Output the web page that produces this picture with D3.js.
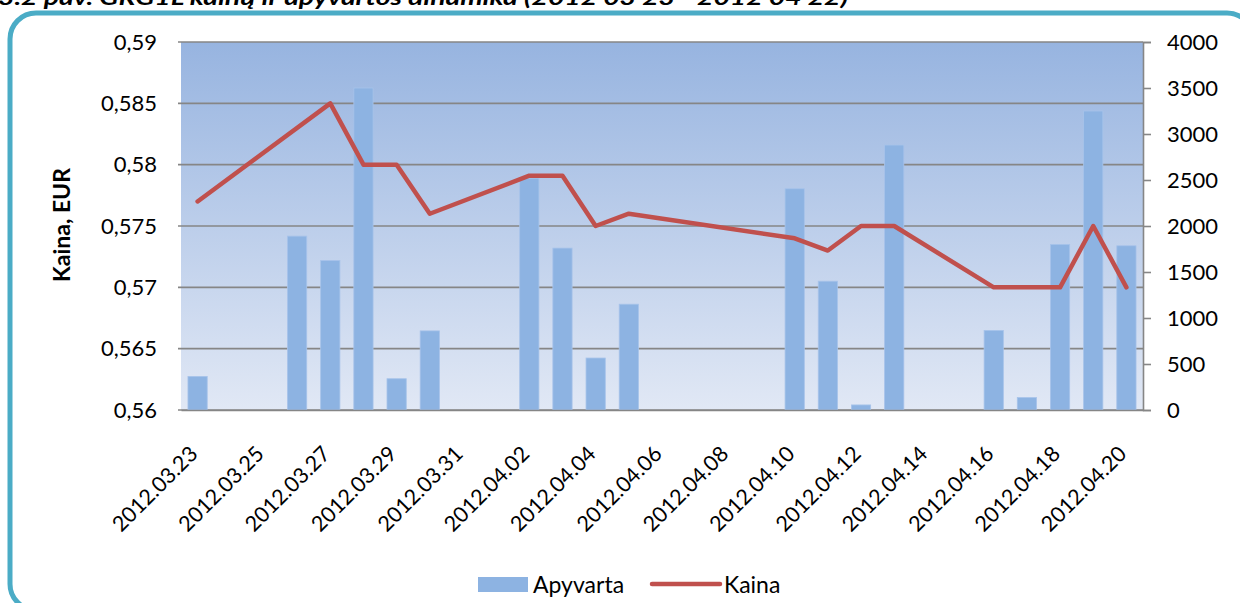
<!DOCTYPE html>
<html>
<head>
<meta charset="utf-8">
<script src="https://cdn.jsdelivr.net/npm/d3@7"></script>
<style>
  body { margin: 0; background: #fff; }
  svg { display: block; font-family: Lato, 'Open Sans', sans-serif; }
  .tick-label { font-family: Lato, 'Open Sans', sans-serif; font-size: 22px; fill: #000; }
  .date-label { font-family: Lato, 'Open Sans', sans-serif; font-size: 21.5px; fill: #000; }
  .axis-title { font-family: Lato, sans-serif; font-size: 23px; font-weight: bold; }
  .legend-label { font-family: Lato, sans-serif; font-size: 23px; }
</style>
</head>
<body>
<svg id="chart" width="1240" height="603"></svg>
<script>
// Dates on the category axis (every calendar day)
const dates = [
  '2012.03.23', '2012.03.24', '2012.03.25', '2012.03.26', '2012.03.27', '2012.03.28',
  '2012.03.29', '2012.03.30', '2012.03.31', '2012.04.01', '2012.04.02', '2012.04.03',
  '2012.04.04', '2012.04.05', '2012.04.06', '2012.04.07', '2012.04.08', '2012.04.09',
  '2012.04.10', '2012.04.11', '2012.04.12', '2012.04.13', '2012.04.14', '2012.04.15',
  '2012.04.16', '2012.04.17', '2012.04.18', '2012.04.19', '2012.04.20',
];

// Apyvarta (turnover), right axis
const apyvarta = [
  365, 0, 0, 1890, 1625, 3500, 340, 860, 0, 0, 2520, 1760,
  565, 1150, 0, 0, 0, 0, 2405, 1400, 55, 2880, 0, 0,
  865, 135, 1800, 3250, 1785,
];

// Kaina (price, EUR), left axis; null = no trade that day
const kaina = [
  0.577, null, null, null, 0.585, 0.58, 0.58, 0.576, null, null, 0.5791, 0.5791,
  0.575, 0.576, null, null, null, null, 0.574, 0.573, 0.575, 0.575, null, null,
  0.57, 0.57, 0.57, 0.575, 0.57,
];

const leftTicks = [0.56, 0.565, 0.57, 0.575, 0.58, 0.585, 0.59];
const rightTicks = [0, 500, 1000, 1500, 2000, 2500, 3000, 3500, 4000];

const title = '3.2 pav. GRG1L kainų ir apyvartos dinamika (2012 03 23 - 2012 04 22)';

const svg = d3.select('#chart');
const margin = { top: 42, right: 97, bottom: 193, left: 181 };
const width = 1240 - margin.left - margin.right;
const height = 603 - margin.top - margin.bottom;

// Figure caption, cut by the top edge as in the source
svg.append('text')
  .attr('x', -2)
  .attr('y', 5)
  .attr('textLength', 850)
  .attr('lengthAdjust', 'spacingAndGlyphs')
  .style('font-size', '21px')
  .style('font-weight', 'bold')
  .style('font-style', 'italic')
  .text(title);

// Rounded frame
svg.append('rect')
  .attr('x', 10)
  .attr('y', 13)
  .attr('width', 1243)
  .attr('height', 597)
  .attr('rx', 26)
  .attr('fill', '#fff')
  .attr('stroke', '#4BACC6')
  .attr('stroke-width', 5);

const defs = svg.append('defs');
const grad = defs.append('linearGradient')
  .attr('id', 'plot-bg')
  .attr('x1', 0).attr('y1', 0)
  .attr('x2', 0).attr('y2', 1);
grad.append('stop').attr('offset', '0%').attr('stop-color', '#97B4E0');
grad.append('stop').attr('offset', '100%').attr('stop-color', '#E1E8F5');

const g = svg.append('g')
  .attr('transform', `translate(${margin.left}, ${margin.top})`);

// Set the ranges
const x = d3.scaleBand()
  .domain(dates)
  .range([0, width])
  .paddingInner(0.42)
  .paddingOuter(0.21);
const yLeft = d3.scaleLinear().domain([0.56, 0.59]).range([height, 0]);
const yRight = d3.scaleLinear().domain([0, 4000]).range([height, 0]);

g.append('rect')
  .attr('width', width)
  .attr('height', height)
  .attr('fill', 'url(#plot-bg)');

// Gridlines
g.append('g')
  .selectAll('line')
  .data(leftTicks)
  .enter().append('line')
  .attr('x1', -3)
  .attr('x2', width)
  .attr('y1', d => yLeft(d))
  .attr('y2', d => yLeft(d))
  .attr('stroke', '#868686')
  .attr('stroke-width', 1.6);

// Bars
g.append('g')
  .selectAll('rect')
  .data(dates.map((d, i) => ({ date: d, value: apyvarta[i] })).filter(d => d.value > 0))
  .enter().append('rect')
  .attr('x', d => x(d.date))
  .attr('width', x.bandwidth())
  .attr('y', d => yRight(d.value))
  .attr('height', d => height - yRight(d.value))
  .attr('fill', '#8DB3E2')
  .attr('stroke', '#A7C3EA')
  .attr('stroke-width', 0.8);

// Price line, connected over days without trades
const points = dates.map((d, i) => ({ date: d, value: kaina[i] })).filter(d => d.value !== null);
const line = d3.line()
  .x(d => x(d.date) + (x.bandwidth() / 2))
  .y(d => yLeft(d.value));

g.append('path')
  .datum(points)
  .attr('d', line)
  .attr('fill', 'none')
  .attr('stroke', '#C0504D')
  .attr('stroke-width', 4.5)
  .attr('stroke-linejoin', 'round')
  .attr('stroke-linecap', 'round');

// Left axis
const yAxisLeft = d3.axisLeft(yLeft)
  .tickValues(leftTicks)
  .tickSize(0)
  .tickPadding(24)
  .tickFormat(d => d3.format('.3~f')(d).replace('.', ','));
const gl = g.append('g').call(yAxisLeft);
gl.select('.domain').remove();
gl.selectAll('text').attr('class', 'tick-label');

// Right axis
const yAxisRight = d3.axisRight(yRight)
  .tickValues(rightTicks)
  .tickSize(8)
  .tickPadding(16)
  .tickFormat(d3.format('d'));
const gr = g.append('g')
  .attr('transform', `translate(${width}, 0)`)
  .call(yAxisRight);
gr.select('.domain').attr('stroke', '#868686').attr('stroke-width', 1.6);
gr.selectAll('.tick line').attr('stroke', '#868686').attr('stroke-width', 1.6);
gr.selectAll('text').attr('class', 'tick-label');

// X axis, every second date, rotated
const xAxis = d3.axisBottom(x)
  .tickValues(dates.filter((d, i) => i % 2 === 0))
  .tickSize(0)
  .tickPadding(0);
const gx = g.append('g')
  .attr('transform', `translate(0, ${height})`)
  .call(xAxis);
gx.select('.domain').attr('stroke', '#868686').attr('stroke-width', 1.6);
gx.selectAll('text')
  .attr('class', 'date-label')
  .attr('dy', 0)
  .attr('x', -31)
  .attr('y', 33)
  .attr('transform', 'rotate(-45)')
  .style('text-anchor', 'end');

// Axis title
g.append('text')
  .attr('class', 'axis-title')
  .attr('transform', 'rotate(-90)')
  .attr('x', -183)
  .attr('y', -111)
  .style('text-anchor', 'middle')
  .text('Kaina, EUR');

// Legend
const legend = svg.append('g');
legend.append('rect')
  .attr('x', 478)
  .attr('y', 577)
  .attr('width', 50)
  .attr('height', 15)
  .attr('fill', '#8DB3E2');
legend.append('text')
  .attr('class', 'legend-label')
  .attr('x', 533)
  .attr('y', 593)
  .text('Apyvarta');
legend.append('line')
  .attr('x1', 652)
  .attr('x2', 720)
  .attr('y1', 584)
  .attr('y2', 584)
  .attr('stroke', '#C0504D')
  .attr('stroke-width', 4.5)
  .attr('stroke-linecap', 'round');
legend.append('text')
  .attr('class', 'legend-label')
  .attr('x', 724)
  .attr('y', 593)
  .text('Kaina');
</script>
</body>
</html>
